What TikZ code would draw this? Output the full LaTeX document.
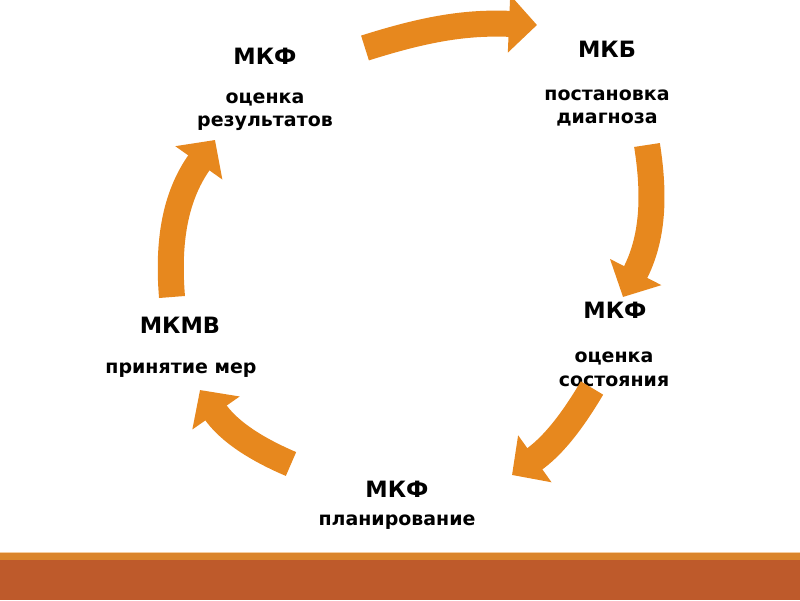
\documentclass[tikz,border=0pt]{standalone}
\usepackage{fontspec}
\setmainfont{DejaVu Sans}
\usetikzlibrary{arrows.meta}

\definecolor{arroworange}{RGB}{231,136,30}
\definecolor{bandred}{RGB}{190,90,43}
\definecolor{bandorange}{RGB}{218,132,44}
\definecolor{bandlight}{RGB}{245,205,160}

\begin{document}
\begin{tikzpicture}[x=0.025cm, y=0.025cm,
  classif/.style={font=\bfseries\fontsize{16}{19}\selectfont, anchor=base},
  stage/.style={font=\bfseries\fontsize{13.5}{16.5}\selectfont, align=center, anchor=base},
  cyclearrow/.style={draw=arroworange, line width=0.65cm,
    -{Triangle[length=0.7cm,width=1.4cm]}}]

\useasboundingbox (0,0) rectangle (800,600);

% bottom band
\fill[bandred] (0,0) rectangle (800,40);
\fill[bandorange] (0,40) rectangle (800,47);
\draw[bandlight, line width=1pt] (0,47.5) -- (800,47.5);

% labels
\node[classif] (icfEval)  at (265,535) {МКФ};
\node[stage]   (evalTxt)  at (265,473) {оценка\\результатов};
\node[classif] (icd)      at (607,542) {МКБ};
\node[stage]   (diagTxt)  at (607,476) {постановка\\диагноза};
\node[classif] (icfState) at (615,282) {МКФ};
\node[stage]   (stateTxt) at (614,214) {оценка\\состояния};
\node[classif] (ichi)     at (180,267) {МКМВ};
\node[stage]   (measTxt)  at (181,227) {принятие мер};
\node[classif] (icfPlan)  at (397,103) {МКФ};
\node[stage]   (planTxt)  at (397,75)  {планирование};

% arrow ends
\coordinate (evalOut)  at (365,552);
\coordinate (diagIn)   at (537,575);
\coordinate (diagOut)  at (647,455);
\coordinate (stateIn)  at (623,303);
\coordinate (stateOut) at (592,212);
\coordinate (planIn)   at (512,125);
\coordinate (planOut)  at (291,136);
\coordinate (measIn)   at (200,210);
\coordinate (measOut)  at (172,303);
\coordinate (evalIn)   at (215,460);

\draw[cyclearrow] (evalOut)  to[bend left=10] (diagIn);
\draw[cyclearrow] (diagOut)  to[bend left=18] (stateIn);
\draw[cyclearrow] (stateOut) to[bend left=12] (planIn);
\draw[cyclearrow] (planOut)  to[bend left=16] (measIn);
\draw[cyclearrow] (measOut)  to[bend left=20] (evalIn);

\end{tikzpicture}
\end{document}
